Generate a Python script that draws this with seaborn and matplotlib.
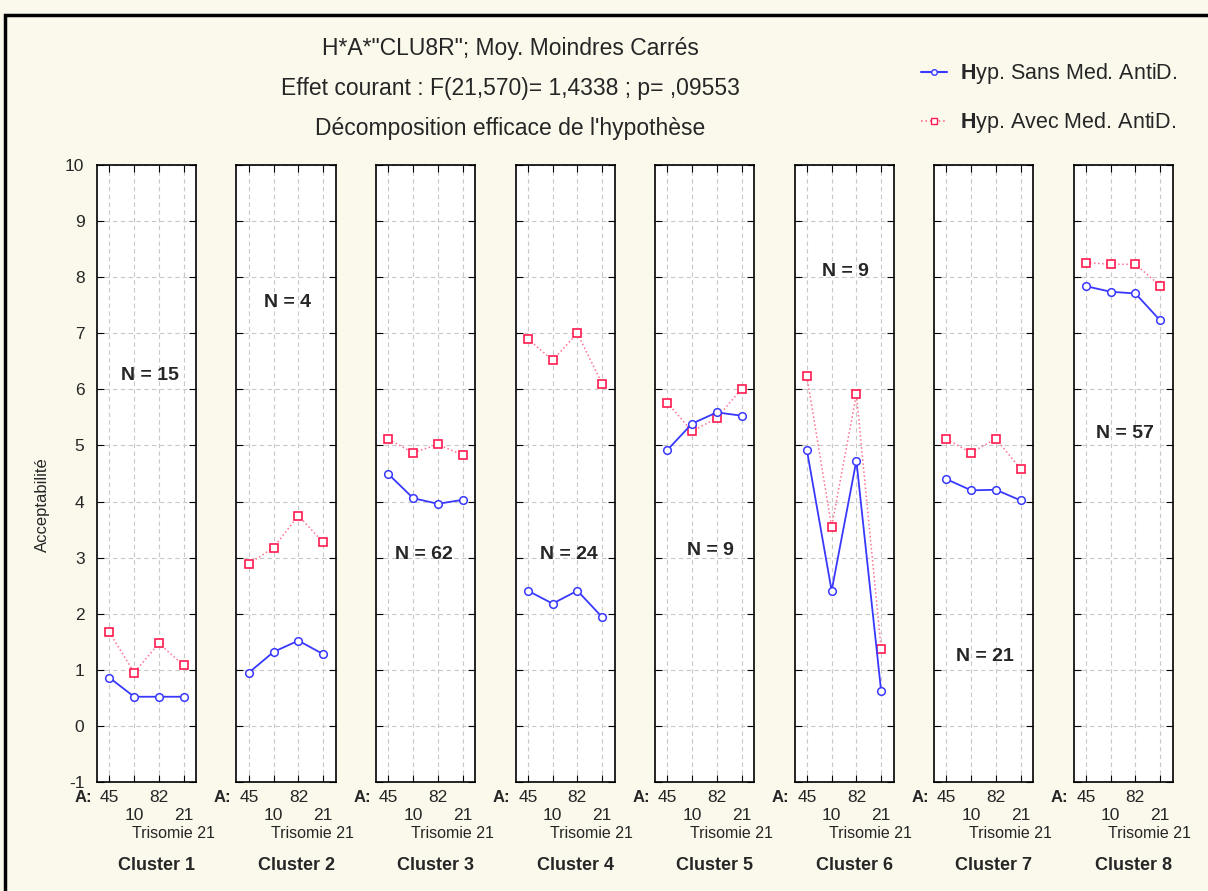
import numpy as np
import pandas as pd
import matplotlib
matplotlib.use("Agg")
import matplotlib.pyplot as plt
import seaborn as sns
from matplotlib.lines import Line2D
from matplotlib.patches import Rectangle

# Data
clusters = ["Cluster 1", "Cluster 2", "Cluster 3", "Cluster 4",
            "Cluster 5", "Cluster 6", "Cluster 7", "Cluster 8"]
age_labels = ["45", "10", "82", "21"]
n_sizes = [15, 4, 62, 24, 9, 9, 21, 57]

sans_med = [
    [0.86, 0.52, 0.52, 0.52],
    [0.95, 1.32, 1.52, 1.28],
    [4.49, 4.06, 3.96, 4.03],
    [2.41, 2.18, 2.41, 1.94],
    [4.92, 5.39, 5.59, 5.53],
    [4.92, 2.41, 4.73, 0.62],
    [4.40, 4.20, 4.21, 4.02],
    [7.84, 7.74, 7.71, 7.23],
]
avec_med = [
    [1.67, 0.95, 1.47, 1.08],
    [2.89, 3.18, 3.75, 3.27],
    [5.11, 4.87, 5.02, 4.83],
    [6.90, 6.52, 7.00, 6.10],
    [5.76, 5.25, 5.49, 6.01],
    [6.23, 3.55, 5.91, 1.38],
    [5.11, 4.87, 5.12, 4.58],
    [8.26, 8.23, 8.23, 7.85],
]

# where the "N = .." labels sit inside each panel (data coords)
n_label_pos = [(2.64, 6.24), (2.58, 7.54), (2.44, 3.06), (2.66, 3.06),
               (2.72, 3.13), (2.54, 8.11), (2.56, 1.23), (2.58, 5.21)]

rows = []
for ci, c in enumerate(clusters):
    for k in range(4):
        rows.append({"cluster": c, "pos": k + 1, "hyp": "sans", "value": sans_med[ci][k]})
        rows.append({"cluster": c, "pos": k + 1, "hyp": "avec", "value": avec_med[ci][k]})
df = pd.DataFrame(rows)

sns.set_style("ticks")
plt.rcParams["font.family"] = ["Liberation Sans", "DejaVu Sans"]
plt.rcParams["mathtext.fontset"] = "custom"
plt.rcParams["mathtext.rm"] = "Liberation Sans"
plt.rcParams["mathtext.bf"] = "Liberation Sans:bold"
plt.rcParams["axes.unicode_minus"] = False

BG = "#fbf8ec"
BLUE = "#3838ff"
RED_LINE = "#ff7090"
RED_MK = "#ff1a4f"

W, H = 1208, 891
fig = plt.figure(figsize=(12.08, 8.91), dpi=100, facecolor=BG)

# outer black frame
fig.patches.append(Rectangle((5 / W, -0.1), 1.2, 1 - 14.5 / H + 0.1,
                             transform=fig.transFigure, fill=False,
                             lw=2.5, ec="black"))

for i, c in enumerate(clusters):
    left = 97 + i * 139.5
    ax = fig.add_axes([left / W, 1 - (165 + 617) / H, 99 / W, 617 / H])
    ax.set_facecolor("white")
    sub = df[df["cluster"] == c]
    sns.lineplot(data=sub[sub["hyp"] == "avec"], x="pos", y="value", ax=ax,
                 color=RED_LINE, lw=1.1, ls=":", marker="s", ms=5.5,
                 mfc="white", mec=RED_MK, mew=1.2)
    sns.lineplot(data=sub[sub["hyp"] == "sans"], x="pos", y="value", ax=ax,
                 color=BLUE, lw=1.3, marker="o", ms=5.5,
                 mfc="white", mec=BLUE, mew=1.1)
    ax.set_xlim(0.5, 4.5)
    ax.set_ylim(-1, 10)
    ax.set_yticks(range(-1, 11))
    ax.set_xticks([1, 2, 3, 4])
    ax.set_xticklabels([age_labels[0], "\n" + age_labels[1],
                        age_labels[2], "\n" + age_labels[3]])
    ax.grid(True, ls=(0, (4, 3)), color="#c8c8c8", lw=0.8)
    ax.tick_params(direction="in", length=5, top=True, right=True,
                   labelsize=12.5, color="black")
    ax.tick_params(axis="x", pad=6)
    ax.tick_params(axis="y", pad=9)
    if i > 0:
        ax.tick_params(labelleft=False)
    ax.set_xlabel("")
    ax.set_ylabel("")
    for sp in ax.spines.values():
        sp.set_color("black")
        sp.set_linewidth(1.2)

    ax.annotate("A:", xy=(0.30, 0), xycoords=("data", "axes fraction"),
                xytext=(0, -15 * 0.72), textcoords="offset points",
                ha="right", va="center", fontweight="bold", fontsize=12)
    ax.annotate("Trisomie 21", xy=(3.57, 0), xycoords=("data", "axes fraction"),
                xytext=(0, -51 * 0.72), textcoords="offset points",
                ha="center", va="center", fontsize=11.5)
    ax.annotate(c, xy=(2.92, 0), xycoords=("data", "axes fraction"),
                xytext=(0, -84 * 0.72), textcoords="offset points",
                ha="center", va="center", fontweight="bold", fontsize=13)
    nx, ny = n_label_pos[i]
    ax.text(nx, ny, f"N = {n_sizes[i]}", ha="center", va="center",
            fontweight="bold", fontsize=14)

fig.text(42 / W, 1 - 505 / H, "Acceptabilité", rotation=90,
         ha="center", va="center", fontsize=12)

fig.text(510 / W, 1 - 48 / H, "H*A*\"CLU8R\"; Moy. Moindres Carrés",
         ha="center", va="center", fontsize=16.5)
fig.text(510 / W, 1 - 89 / H, "Effet courant : F(21,570)= 1,4338 ; p= ,09553",
         ha="center", va="center", fontsize=16.5)
fig.text(510 / W, 1 - 129 / H, "Décomposition efficace de l'hypothèse",
         ha="center", va="center", fontsize=16.5)

handles = [
    Line2D([], [], color=BLUE, lw=1.5, marker="o", ms=4, mfc="white", mec=BLUE),
    Line2D([], [], color=RED_LINE, lw=1.2, ls=":", marker="s", ms=4,
           mfc="white", mec=RED_MK),
]
labels = [r"$\mathbf{H}$yp. Sans Med. AntiD.", r"$\mathbf{H}$yp. Avec Med. AntiD."]
fig.legend(handles, labels, loc="upper left", bbox_to_anchor=(902 / W, 1 - 42 / H),
           frameon=False, handlelength=1.2, handletextpad=0.6, fontsize=15.5,
           labelspacing=1.1)

fig.savefig("out.png", dpi=100, facecolor=BG)
